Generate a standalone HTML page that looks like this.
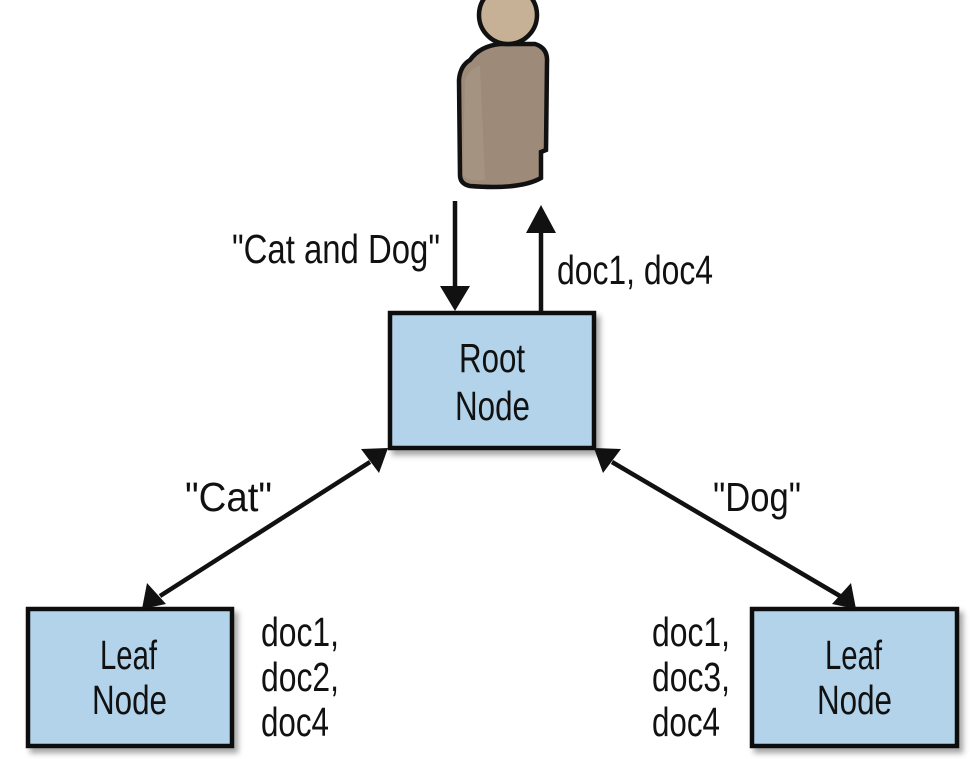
<!DOCTYPE html>
<html><head><meta charset="utf-8"><style>
html,body{margin:0;padding:0;background:#fff;}
svg{display:block;}
text{font-family:"Liberation Sans",sans-serif;font-size:41px;fill:#111;}
</style></head><body>
<svg width="970" height="759" viewBox="0 0 970 759" xmlns="http://www.w3.org/2000/svg">
<defs>
<filter id="sh" x="-10%" y="-10%" width="130%" height="130%"><feDropShadow dx="4" dy="5" stdDeviation="3" flood-color="#000" flood-opacity="0.35"/></filter>
</defs>
<!-- person -->
<path d="M470 60 Q480 46 500 44 L535 44 Q548 48 547 62 L546 150 L541 152 L541 178 Q520 190 470 186 Q460 184 460 175 L459 80 Q460 66 470 60 Z" fill="#9d8a78" stroke="#111" stroke-width="4.5"/>
<path d="M465 80 Q470 68 480 66 L485 180 Q468 182 463 175 Z" fill="#a89584" opacity="0.8"/>
<circle cx="508" cy="15" r="29" fill="#c7b196" stroke="#111" stroke-width="4.5"/>
<!-- boxes -->
<rect x="390" y="313" width="204" height="135" fill="#b2d3ea" stroke="#111" stroke-width="4.5" filter="url(#sh)"/>
<rect x="28" y="609" width="204" height="137" fill="#b2d3ea" stroke="#111" stroke-width="4.5" filter="url(#sh)"/>
<rect x="752" y="609" width="205" height="137" fill="#b2d3ea" stroke="#111" stroke-width="4.5" filter="url(#sh)"/>
<!-- arrows -->
<g stroke="#111" stroke-width="4.5" fill="none">
<line x1="455" y1="201" x2="455" y2="290"/>
<line x1="541" y1="312" x2="541" y2="230"/>
<line x1="370" y1="462" x2="160" y2="596"/>
<line x1="612" y1="462" x2="840" y2="596"/>
</g>
<g fill="#111">
<polygon points="440,286 470,286 455,311"/>
<polygon points="526,233 556,233 541,205"/>
<polygon points="388,448 379,473 361,449"/>
<polygon points="142,609 147,583 166,604"/>
<polygon points="594,448 603,473 621,449"/>
<polygon points="856,609 851,583 832,604"/>
</g>
<!-- labels -->
<text x="232" y="263" textLength="208" lengthAdjust="spacingAndGlyphs">"Cat and Dog"</text>
<text x="557" y="284" textLength="156" lengthAdjust="spacingAndGlyphs">doc1, doc4</text>
<text x="459" y="372" textLength="66" lengthAdjust="spacingAndGlyphs">Root</text>
<text x="455" y="420" textLength="75" lengthAdjust="spacingAndGlyphs">Node</text>
<text x="185" y="511" textLength="87" lengthAdjust="spacingAndGlyphs">"Cat"</text>
<text x="713" y="511" textLength="88" lengthAdjust="spacingAndGlyphs">"Dog"</text>
<text x="100" y="669" textLength="57" lengthAdjust="spacingAndGlyphs">Leaf</text>
<text x="92" y="714" textLength="75" lengthAdjust="spacingAndGlyphs">Node</text>
<text x="825" y="669" textLength="57" lengthAdjust="spacingAndGlyphs">Leaf</text>
<text x="817" y="714" textLength="75" lengthAdjust="spacingAndGlyphs">Node</text>
<text x="261" y="646" textLength="78" lengthAdjust="spacingAndGlyphs">doc1,</text>
<text x="261" y="691" textLength="78" lengthAdjust="spacingAndGlyphs">doc2,</text>
<text x="261" y="736" textLength="68" lengthAdjust="spacingAndGlyphs">doc4</text>
<text x="652" y="646" textLength="78" lengthAdjust="spacingAndGlyphs">doc1,</text>
<text x="652" y="691" textLength="78" lengthAdjust="spacingAndGlyphs">doc3,</text>
<text x="652" y="736" textLength="68" lengthAdjust="spacingAndGlyphs">doc4</text>
</svg>
</body></html>
